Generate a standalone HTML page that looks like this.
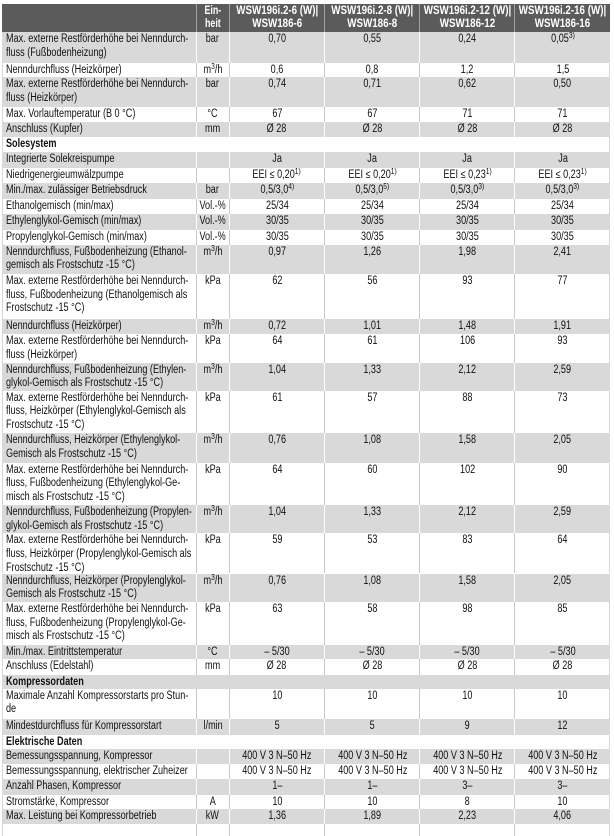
<!DOCTYPE html>
<html><head><meta charset="utf-8">
<style>
html,body{margin:0;padding:0;background:#fff;}
body{width:614px;height:832px;position:relative;overflow:hidden;font-family:"Liberation Sans",Arial,sans-serif;font-size:11.5px;color:#111;}
.row{position:absolute;left:2px;width:608px;}
.g{background:#d9d9d9;}
.w{background:#fff;}
.c{position:absolute;top:0;bottom:0;display:flex;justify-content:center;align-items:flex-start;overflow:visible;}
.c span{display:inline-block;white-space:nowrap;line-height:13.7px;padding-top:1px;transform:scaleX(.79);transform-origin:center top;}
.l{left:0;width:194px;justify-content:flex-start;}
.l span{transform-origin:left top;margin-left:4px;}
.u{left:194px;width:32.5px;}
.d1{left:226.5px;width:95.8px;}
.d2{left:322.3px;width:95px;}
.d3{left:417.3px;width:95px;}
.d4{left:512.3px;width:95.7px;}
.u,.d1,.d2,.d3,.d4{border-left:1px solid #fff;box-sizing:border-box;}
.w .u,.w .d1,.w .d2,.w .d3,.w .d4{border-left-color:#c9c9c9;}
.w{box-shadow:inset 1px 0 0 #d6d6d6,inset -1px 0 0 #d6d6d6;}
.sec span{font-weight:bold;}
.hdr{background:#5b5b5b;color:#fff;}
.hdr .c{align-items:center;}
.hdr .u,.hdr .d1,.hdr .d2,.hdr .d3,.hdr .d4{border-left:1px solid #a3a3a3;}
.hdr .c span{font-weight:bold;line-height:13px;padding-top:0;transform:scaleX(.85);transform-origin:center center;text-align:center;}
.hdr .u span{transform:scaleX(.77);}
sup{font-size:8.5px;vertical-align:4px;line-height:0;}
</style></head><body>

<div class="row hdr" style="top:4px;height:28.3px">
<div class="c l"></div>
<div class="c u"><span>Ein-<br>heit</span></div>
<div class="c d1"><span>WSW196i.2-6 (W)|<br>WSW186-6</span></div>
<div class="c d2"><span>WSW196i.2-8 (W)|<br>WSW186-8</span></div>
<div class="c d3"><span>WSW196i.2-12 (W)|<br>WSW186-12</span></div>
<div class="c d4"><span>WSW196i.2-16 (W)|<br>WSW186-16</span></div>
</div>

<div class="row g" style="top:32.3px;height:31px">
<div class="c l"><span>Max. externe Restförderhöhe bei Nenndurch-<br>fluss (Fußbodenheizung)</span></div>
<div class="c u"><span>bar</span></div>
<div class="c d1"><span>0,70</span></div>
<div class="c d2"><span>0,55</span></div>
<div class="c d3"><span>0,24</span></div>
<div class="c d4"><span>0,05<sup>3)</sup></span></div>
</div>

<div class="row w" style="top:63.3px;height:14px">
<div class="c l"><span>Nenndurchfluss (Heizkörper)</span></div>
<div class="c u"><span>m<sup>3</sup>/h</span></div>
<div class="c d1"><span>0,6</span></div>
<div class="c d2"><span>0,8</span></div>
<div class="c d3"><span>1,2</span></div>
<div class="c d4"><span>1,5</span></div>
</div>

<div class="row g" style="top:77.3px;height:30px">
<div class="c l"><span>Max. externe Restförderhöhe bei Nenndurch-<br>fluss (Heizkörper)</span></div>
<div class="c u"><span>bar</span></div>
<div class="c d1"><span>0,74</span></div>
<div class="c d2"><span>0,71</span></div>
<div class="c d3"><span>0,62</span></div>
<div class="c d4"><span>0,50</span></div>
</div>

<div class="row w" style="top:107.3px;height:14.4px">
<div class="c l"><span>Max. Vorlauftemperatur (B 0 °C)</span></div>
<div class="c u"><span>°C</span></div>
<div class="c d1"><span>67</span></div>
<div class="c d2"><span>67</span></div>
<div class="c d3"><span>71</span></div>
<div class="c d4"><span>71</span></div>
</div>

<div class="row g" style="top:121.7px;height:15.6px">
<div class="c l"><span>Anschluss (Kupfer)</span></div>
<div class="c u"><span>mm</span></div>
<div class="c d1"><span>Ø 28</span></div>
<div class="c d2"><span>Ø 28</span></div>
<div class="c d3"><span>Ø 28</span></div>
<div class="c d4"><span>Ø 28</span></div>
</div>

<div class="row w sec" style="top:137.3px;height:15px">
<div class="c l"><span>Solesystem</span></div>
</div>

<div class="row g" style="top:152.3px;height:16px">
<div class="c l"><span>Integrierte Solekreispumpe</span></div>
<div class="c u"><span></span></div>
<div class="c d1"><span>Ja</span></div>
<div class="c d2"><span>Ja</span></div>
<div class="c d3"><span>Ja</span></div>
<div class="c d4"><span>Ja</span></div>
</div>

<div class="row w" style="top:168.3px;height:15px">
<div class="c l"><span>Niedrigenergieumwälzpumpe</span></div>
<div class="c u"><span></span></div>
<div class="c d1"><span>EEI ≤ 0,20<sup>1)</sup></span></div>
<div class="c d2"><span>EEI ≤ 0,20<sup>1)</sup></span></div>
<div class="c d3"><span>EEI ≤ 0,23<sup>1)</sup></span></div>
<div class="c d4"><span>EEI ≤ 0,23<sup>1)</sup></span></div>
</div>

<div class="row g" style="top:183.3px;height:15.7px">
<div class="c l"><span>Min./max. zulässiger Betriebsdruck</span></div>
<div class="c u"><span>bar</span></div>
<div class="c d1"><span>0,5/3,0<sup>4)</sup></span></div>
<div class="c d2"><span>0,5/3,0<sup>5)</sup></span></div>
<div class="c d3"><span>0,5/3,0<sup>3)</sup></span></div>
<div class="c d4"><span>0,5/3,0<sup>3)</sup></span></div>
</div>

<div class="row w" style="top:199px;height:15px">
<div class="c l"><span>Ethanolgemisch (min/max)</span></div>
<div class="c u"><span>Vol.-%</span></div>
<div class="c d1"><span>25/34</span></div>
<div class="c d2"><span>25/34</span></div>
<div class="c d3"><span>25/34</span></div>
<div class="c d4"><span>25/34</span></div>
</div>

<div class="row g" style="top:214px;height:15.5px">
<div class="c l"><span>Ethylenglykol-Gemisch (min/max)</span></div>
<div class="c u"><span>Vol.-%</span></div>
<div class="c d1"><span>30/35</span></div>
<div class="c d2"><span>30/35</span></div>
<div class="c d3"><span>30/35</span></div>
<div class="c d4"><span>30/35</span></div>
</div>

<div class="row w" style="top:229.5px;height:15px">
<div class="c l"><span>Propylenglykol-Gemisch (min/max)</span></div>
<div class="c u"><span>Vol.-%</span></div>
<div class="c d1"><span>30/35</span></div>
<div class="c d2"><span>30/35</span></div>
<div class="c d3"><span>30/35</span></div>
<div class="c d4"><span>30/35</span></div>
</div>

<div class="row g" style="top:244.5px;height:29.5px">
<div class="c l"><span>Nenndurchfluss, Fußbodenheizung (Ethanol-<br>gemisch als Frostschutz -15 °C)</span></div>
<div class="c u"><span>m<sup>3</sup>/h</span></div>
<div class="c d1"><span>0,97</span></div>
<div class="c d2"><span>1,26</span></div>
<div class="c d3"><span>1,98</span></div>
<div class="c d4"><span>2,41</span></div>
</div>

<div class="row w" style="top:274px;height:45.3px">
<div class="c l"><span>Max. externe Restförderhöhe bei Nenndurch-<br>fluss, Fußbodenheizung (Ethanolgemisch als<br>Frostschutz -15 °C)</span></div>
<div class="c u"><span>kPa</span></div>
<div class="c d1"><span>62</span></div>
<div class="c d2"><span>56</span></div>
<div class="c d3"><span>93</span></div>
<div class="c d4"><span>77</span></div>
</div>

<div class="row g" style="top:319.3px;height:14.7px">
<div class="c l"><span>Nenndurchfluss (Heizkörper)</span></div>
<div class="c u"><span>m<sup>3</sup>/h</span></div>
<div class="c d1"><span>0,72</span></div>
<div class="c d2"><span>1,01</span></div>
<div class="c d3"><span>1,48</span></div>
<div class="c d4"><span>1,91</span></div>
</div>

<div class="row w" style="top:334px;height:28.7px">
<div class="c l"><span>Max. externe Restförderhöhe bei Nenndurch-<br>fluss (Heizkörper)</span></div>
<div class="c u"><span>kPa</span></div>
<div class="c d1"><span>64</span></div>
<div class="c d2"><span>61</span></div>
<div class="c d3"><span>106</span></div>
<div class="c d4"><span>93</span></div>
</div>

<div class="row g" style="top:362.7px;height:28px">
<div class="c l"><span>Nenndurchfluss, Fußbodenheizung (Ethylen-<br>glykol-Gemisch als Frostschutz -15 °C)</span></div>
<div class="c u"><span>m<sup>3</sup>/h</span></div>
<div class="c d1"><span>1,04</span></div>
<div class="c d2"><span>1,33</span></div>
<div class="c d3"><span>2,12</span></div>
<div class="c d4"><span>2,59</span></div>
</div>

<div class="row w" style="top:390.7px;height:42.6px">
<div class="c l"><span>Max. externe Restförderhöhe bei Nenndurch-<br>fluss, Heizkörper (Ethylenglykol-Gemisch als<br>Frostschutz -15 °C)</span></div>
<div class="c u"><span>kPa</span></div>
<div class="c d1"><span>61</span></div>
<div class="c d2"><span>57</span></div>
<div class="c d3"><span>88</span></div>
<div class="c d4"><span>73</span></div>
</div>

<div class="row g" style="top:433.3px;height:29.4px">
<div class="c l"><span>Nenndurchfluss, Heizkörper (Ethylenglykol-<br>Gemisch als Frostschutz -15 °C)</span></div>
<div class="c u"><span>m<sup>3</sup>/h</span></div>
<div class="c d1"><span>0,76</span></div>
<div class="c d2"><span>1,08</span></div>
<div class="c d3"><span>1,58</span></div>
<div class="c d4"><span>2,05</span></div>
</div>

<div class="row w" style="top:462.7px;height:42.3px">
<div class="c l"><span>Max. externe Restförderhöhe bei Nenndurch-<br>fluss, Fußbodenheizung (Ethylenglykol-Ge-<br>misch als Frostschutz -15 °C)</span></div>
<div class="c u"><span>kPa</span></div>
<div class="c d1"><span>64</span></div>
<div class="c d2"><span>60</span></div>
<div class="c d3"><span>102</span></div>
<div class="c d4"><span>90</span></div>
</div>

<div class="row g" style="top:505px;height:28.3px">
<div class="c l"><span>Nenndurchfluss, Fußbodenheizung (Propylen-<br>glykol-Gemisch als Frostschutz -15 °C)</span></div>
<div class="c u"><span>m<sup>3</sup>/h</span></div>
<div class="c d1"><span>1,04</span></div>
<div class="c d2"><span>1,33</span></div>
<div class="c d3"><span>2,12</span></div>
<div class="c d4"><span>2,59</span></div>
</div>

<div class="row w" style="top:533.3px;height:40.2px">
<div class="c l"><span>Max. externe Restförderhöhe bei Nenndurch-<br>fluss, Heizkörper (Propylenglykol-Gemisch als<br>Frostschutz -15 °C)</span></div>
<div class="c u"><span>kPa</span></div>
<div class="c d1"><span>59</span></div>
<div class="c d2"><span>53</span></div>
<div class="c d3"><span>83</span></div>
<div class="c d4"><span>64</span></div>
</div>

<div class="row g" style="top:573.5px;height:28.5px">
<div class="c l"><span>Nenndurchfluss, Heizkörper (Propylenglykol-<br>Gemisch als Frostschutz -15 °C)</span></div>
<div class="c u"><span>m<sup>3</sup>/h</span></div>
<div class="c d1"><span>0,76</span></div>
<div class="c d2"><span>1,08</span></div>
<div class="c d3"><span>1,58</span></div>
<div class="c d4"><span>2,05</span></div>
</div>

<div class="row w" style="top:602px;height:43.3px">
<div class="c l"><span>Max. externe Restförderhöhe bei Nenndurch-<br>fluss, Fußbodenheizung (Propylenglykol-Ge-<br>misch als Frostschutz -15 °C)</span></div>
<div class="c u"><span>kPa</span></div>
<div class="c d1"><span>63</span></div>
<div class="c d2"><span>58</span></div>
<div class="c d3"><span>98</span></div>
<div class="c d4"><span>85</span></div>
</div>

<div class="row g" style="top:645.3px;height:14px">
<div class="c l"><span>Min./max. Eintrittstemperatur</span></div>
<div class="c u"><span>°C</span></div>
<div class="c d1"><span>– 5/30</span></div>
<div class="c d2"><span>– 5/30</span></div>
<div class="c d3"><span>– 5/30</span></div>
<div class="c d4"><span>– 5/30</span></div>
</div>

<div class="row w" style="top:659.3px;height:15.4px">
<div class="c l"><span>Anschluss (Edelstahl)</span></div>
<div class="c u"><span>mm</span></div>
<div class="c d1"><span>Ø 28</span></div>
<div class="c d2"><span>Ø 28</span></div>
<div class="c d3"><span>Ø 28</span></div>
<div class="c d4"><span>Ø 28</span></div>
</div>

<div class="row g sec" style="top:674.7px;height:14px">
<div class="c l"><span>Kompressordaten</span></div>
</div>

<div class="row w" style="top:688.7px;height:30px">
<div class="c l"><span>Maximale Anzahl Kompressorstarts pro Stun-<br>de</span></div>
<div class="c u"><span></span></div>
<div class="c d1"><span>10</span></div>
<div class="c d2"><span>10</span></div>
<div class="c d3"><span>10</span></div>
<div class="c d4"><span>10</span></div>
</div>

<div class="row g" style="top:718.7px;height:16px">
<div class="c l"><span>Mindestdurchfluss für Kompressorstart</span></div>
<div class="c u"><span>l/min</span></div>
<div class="c d1"><span>5</span></div>
<div class="c d2"><span>5</span></div>
<div class="c d3"><span>9</span></div>
<div class="c d4"><span>12</span></div>
</div>

<div class="row w sec" style="top:734.7px;height:14px">
<div class="c l"><span>Elektrische Daten</span></div>
</div>

<div class="row g" style="top:748.7px;height:15px">
<div class="c l"><span>Bemessungsspannung, Kompressor</span></div>
<div class="c u"><span></span></div>
<div class="c d1"><span>400 V 3 N–50 Hz</span></div>
<div class="c d2"><span>400 V 3 N–50 Hz</span></div>
<div class="c d3"><span>400 V 3 N–50 Hz</span></div>
<div class="c d4"><span>400 V 3 N–50 Hz</span></div>
</div>

<div class="row w" style="top:763.7px;height:15px">
<div class="c l"><span>Bemessungsspannung, elektrischer Zuheizer</span></div>
<div class="c u"><span></span></div>
<div class="c d1"><span>400 V 3 N–50 Hz</span></div>
<div class="c d2"><span>400 V 3 N–50 Hz</span></div>
<div class="c d3"><span>400 V 3 N–50 Hz</span></div>
<div class="c d4"><span>400 V 3 N–50 Hz</span></div>
</div>

<div class="row g" style="top:778.7px;height:16px">
<div class="c l"><span>Anzahl Phasen, Kompressor</span></div>
<div class="c u"><span></span></div>
<div class="c d1"><span>1–</span></div>
<div class="c d2"><span>1–</span></div>
<div class="c d3"><span>3–</span></div>
<div class="c d4"><span>3–</span></div>
</div>

<div class="row w" style="top:794.7px;height:14px">
<div class="c l"><span>Stromstärke, Kompressor</span></div>
<div class="c u"><span>A</span></div>
<div class="c d1"><span>10</span></div>
<div class="c d2"><span>10</span></div>
<div class="c d3"><span>8</span></div>
<div class="c d4"><span>10</span></div>
</div>

<div class="row g" style="top:808.7px;height:15px">
<div class="c l"><span>Max. Leistung bei Kompressorbetrieb</span></div>
<div class="c u"><span>kW</span></div>
<div class="c d1"><span>1,36</span></div>
<div class="c d2"><span>1,89</span></div>
<div class="c d3"><span>2,23</span></div>
<div class="c d4"><span>4,06</span></div>
</div>

<div class="row w" style="top:823.7px;height:12px">
<div class="c l"></div>
<div class="c u"></div>
<div class="c d1"></div>
<div class="c d2"></div>
<div class="c d3"></div>
<div class="c d4"></div>
</div>

</body></html>
